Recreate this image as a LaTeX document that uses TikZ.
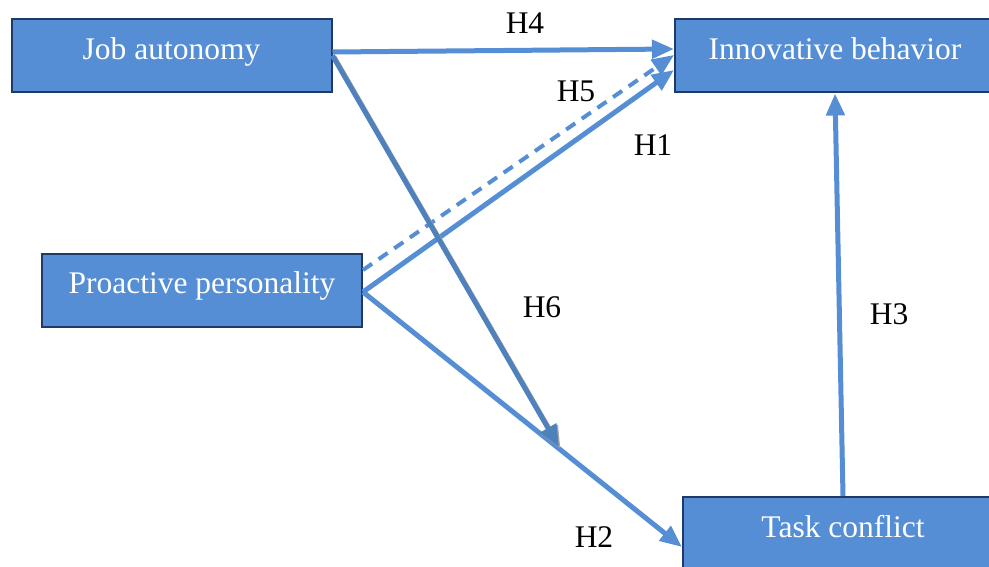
\documentclass[tikz,border=0pt]{standalone}
\usepackage{fontspec}
\setmainfont{Liberation Serif}
\usetikzlibrary{arrows.meta,calc}
\definecolor{boxfill}{HTML}{558ED5}
\definecolor{boxline}{HTML}{1F3A66}
\definecolor{arrowc}{HTML}{558ED5}
\definecolor{hsix}{HTML}{4F81BD}
\begin{document}
\begin{tikzpicture}[x=1pt,y=-1pt,
  concept/.style={draw=boxline, line width=2pt, fill=boxfill, text=white,
    minimum width=320pt, minimum height=73pt, inner sep=0pt,
    text height=21pt, text depth=13pt, font=\fontsize{31.5}{38}\selectfont},
  link/.style={draw=arrowc, line width=5pt, -{Triangle[length=22pt,width=18pt]}},
  hlabel/.style={anchor=base, font=\fontsize{31.5}{38}\selectfont, inner sep=0pt}]
\useasboundingbox (0,0) rectangle (989,567);
\clip (0,0) rectangle (989,567);
\node[concept] (ja) at (171.5,55.5) {Job autonomy};
\node[concept] (ib) at (835,56) {Innovative behavior};
\node[concept] (pp) at (202,290) {Proactive personality};
\node[concept] (tc) at (843,533.5) {Task conflict};
\coordinate (h6end) at (559,447);
% H4
\draw[link] ([yshift=3.5pt]ja.east) -- ([yshift=7pt]ib.west);
% H5 dashed
\draw[link, line width=4pt, dash pattern=on 11pt off 8pt] ([yshift=20pt]pp.east) -- ([yshift=1pt]ib.west);
% H1
\draw[link] ([yshift=-2pt]pp.east) -- ([yshift=-14pt]ib.west);
% H2
\draw[link] ([yshift=-2pt]pp.east) -- ([yshift=-13.5pt]tc.west);
% H6 (shadow + line)
\draw[link, draw=gray!70] ([shift={(1.5,1.5)}]ja.east) -- ([shift={(1.5,1.5)}]h6end);
\draw[link, draw=hsix] (ja.east) -- (h6end);
% H3
\draw[link] (tc.north) -- (ib.south);
% labels
\node[hlabel] (l4) at (525,34) {H4};
\node[hlabel] (l5) at (576,102) {H5};
\node[hlabel] (l1) at (653,156) {H1};
\node[hlabel] (l6) at (542,317) {H6};
\node[hlabel] (l3) at (889,324) {H3};
\node[hlabel] (l2) at (594,547) {H2};
\end{tikzpicture}
\end{document}
